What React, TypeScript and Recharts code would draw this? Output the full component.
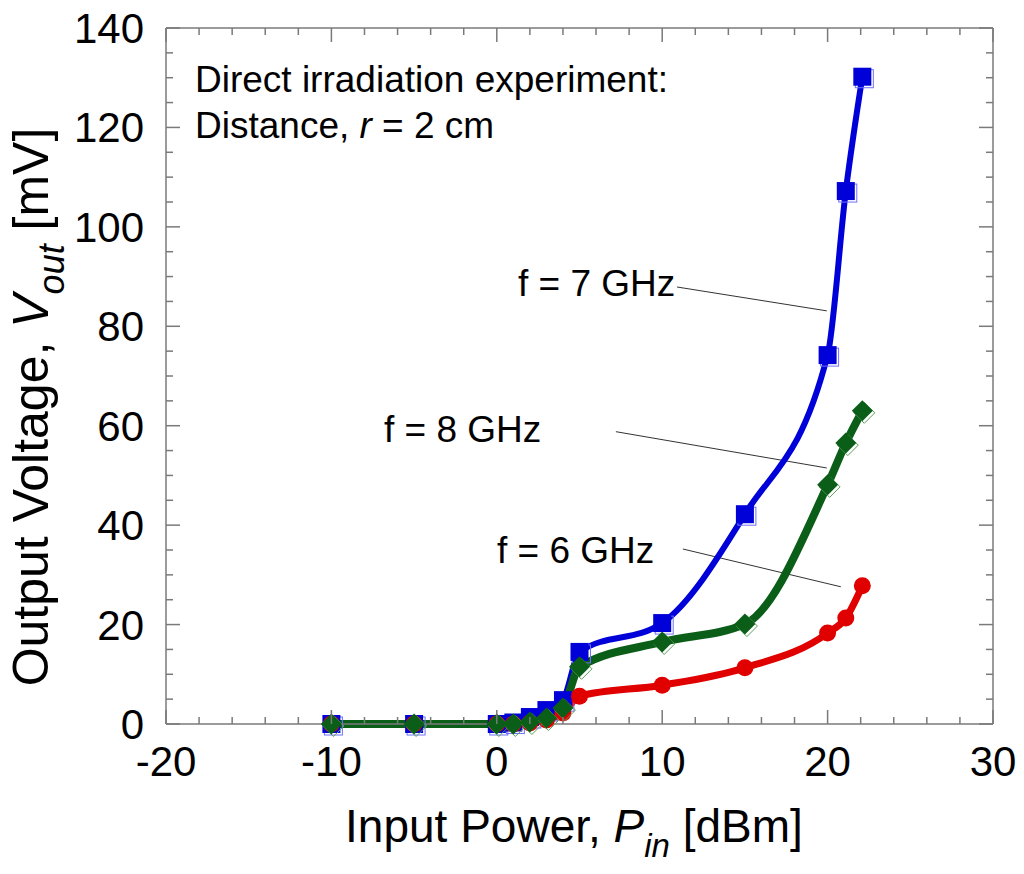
import { Line, LineChart, ReferenceLine, XAxis, YAxis } from "recharts";

// Input power [dBm] shared by all three frequencies
const powerDbm = [-10, -5, 0, 1, 2, 3, 4, 5, 10, 15, 20, 21.1, 22.1];
// Output voltage [mV]
const vout7GHz = [0, 0, 0, 0.3, 1.4, 2.8, 4.8, 14.5, 20.3, 42.2, 74.2, 107.2, 130.2];
const vout8GHz = [0, 0, 0, 0, 0.4, 1.2, 3.2, 11.5, 16.5, 20.1, 48.1, 56.5, 63];
const vout6GHz = [0, 0, 0, 0, 0.2, 0.8, 2.2, 5.6, 7.8, 11.3, 18.3, 21.3, 27.8];

const xTicks = [-20, -18, -16, -14, -12, -10, -8, -6, -4, -2, 0, 2, 4, 6, 8, 10, 12, 14, 16, 18, 20, 22, 24, 26, 28, 30];
const yTicks = [0, 5, 10, 15, 20, 25, 30, 35, 40, 45, 50, 55, 60, 65, 70, 75, 80, 85, 90, 95, 100, 105, 110, 115, 120, 125, 130, 135, 140];

// leader lines: [x1, y1, x2, y2] in data units
const leader7 = [10.9, 87.9, 19.95, 83.1];
const leader8 = [7.2, 58.8, 19.95, 51.5];
const leader6 = [11.25, 35.2, 20.8, 27.6];

const data = powerDbm.map((p, i) => ({ p, v7: vout7GHz[i], v8: vout8GHz[i], v6: vout6GHz[i] }));

const FONT = "'Liberation Sans', Arial, sans-serif";
const AXIS = "#7a7a7a";

const isMajorX = (v: number) => v % 10 === 0;
const isMajorY = (v: number) => v % 20 === 0;

function BottomTick({ x, y, payload }: any) {
  const major = isMajorX(payload.value);
  return (
    <g>
      <line x1={x} y1={y} x2={x} y2={y - (major ? 14 : 7)} stroke={AXIS} strokeWidth={1.5} />
      {major && (
        <text x={x} y={y + 52} textAnchor="middle" fontFamily={FONT} fontSize={42} fill="#000">
          {payload.value}
        </text>
      )}
    </g>
  );
}

function TopTick({ x, y, payload }: any) {
  const major = isMajorX(payload.value);
  return <line x1={x} y1={y} x2={x} y2={y + (major ? 14 : 7)} stroke={AXIS} strokeWidth={1.5} />;
}

function LeftTick({ x, y, payload }: any) {
  const major = isMajorY(payload.value);
  return (
    <g>
      <line x1={x} y1={y} x2={x + (major ? 14 : 7)} y2={y} stroke={AXIS} strokeWidth={1.5} />
      {major && (
        <text x={x - 22} y={y + 15} textAnchor="end" fontFamily={FONT} fontSize={42} fill="#000">
          {payload.value}
        </text>
      )}
    </g>
  );
}

function RightTick({ x, y, payload }: any) {
  const major = isMajorY(payload.value);
  return <line x1={x} y1={y} x2={x - (major ? 14 : 7)} y2={y} stroke={AXIS} strokeWidth={1.5} />;
}

function SquareDot({ cx, cy, index }: any) {
  if (cx == null || cy == null) return <g key={index} />;
  const s = 18;
  return (
    <g key={index}>
      <rect x={cx - s / 2 + 2} y={cy - s / 2 + 2} width={s} height={s} fill="none" stroke="#7070ff" strokeWidth={1} />
      <rect x={cx - s / 2} y={cy - s / 2} width={s} height={s} fill="#0000d8" />
    </g>
  );
}

function DiamondDot({ cx, cy, index }: any) {
  if (cx == null || cy == null) return <g key={index} />;
  const r = 10.5;
  const pts = (dx: number, dy: number) =>
    `${cx + dx},${cy - r + dy} ${cx + r + dx},${cy + dy} ${cx + dx},${cy + r + dy} ${cx - r + dx},${cy + dy}`;
  return (
    <g key={index}>
      <polygon points={pts(2, 2)} fill="none" stroke="#5aa05a" strokeWidth={1} />
      <polygon points={pts(0, 0)} fill="#0b5e18" />
    </g>
  );
}

function CircleDot({ cx, cy, index }: any) {
  if (cx == null || cy == null) return <g key={index} />;
  return <circle key={index} cx={cx} cy={cy} r={8.5} fill="#e00000" />;
}

export default function App() {
  return (
    <div style={{ position: "absolute", left: 0, top: 0, width: 1024, height: 874, background: "#fff" }}>
      <LineChart width={1024} height={874} data={data} margin={{ top: 27, right: 30, bottom: 90, left: 86 }}>
        <XAxis
          xAxisId="b"
          dataKey="p"
          type="number"
          domain={[-20, 30]}
          ticks={xTicks}
          interval={0}
          height={60}
          tickSize={0}
          tickMargin={0}
          tickLine={false}
          stroke={AXIS}
          strokeWidth={1.5}
          tick={<BottomTick />}
        />
        <XAxis
          xAxisId="t"
          orientation="top"
          dataKey="p"
          type="number"
          domain={[-20, 30]}
          ticks={xTicks}
          interval={0}
          height={1}
          tickSize={0}
          tickMargin={0}
          tickLine={false}
          stroke={AXIS}
          strokeWidth={1.5}
          tick={<TopTick />}
        />
        <YAxis
          yAxisId="l"
          type="number"
          domain={[0, 140]}
          ticks={yTicks}
          interval={0}
          width={80}
          tickSize={0}
          tickMargin={0}
          tickLine={false}
          stroke={AXIS}
          strokeWidth={1.5}
          tick={<LeftTick />}
        />
        <YAxis
          yAxisId="r"
          orientation="right"
          type="number"
          domain={[0, 140]}
          ticks={yTicks}
          interval={0}
          width={1}
          tickSize={0}
          tickMargin={0}
          tickLine={false}
          stroke={AXIS}
          strokeWidth={1.5}
          tick={<RightTick />}
        />
        {[leader7, leader8, leader6].map((l, i) => (
          <ReferenceLine
            key={i}
            xAxisId="b"
            yAxisId="l"
            segment={[
              { x: l[0], y: l[1] },
              { x: l[2], y: l[3] },
            ]}
            stroke="#333"
            strokeWidth={1}
          />
        ))}
        {/* invisible series so the top/right frame axes get drawn */}
        <Line xAxisId="t" yAxisId="r" type="linear" dataKey="v6" stroke="none" dot={false} activeDot={false} legendType="none" isAnimationActive={false} />
        <Line xAxisId="b" yAxisId="l" type="monotone" dataKey="v7" stroke="#0000d8" strokeWidth={6} dot={<SquareDot />} activeDot={false} isAnimationActive={false} />
        <Line xAxisId="b" yAxisId="l" type="monotone" dataKey="v6" stroke="#e00000" strokeWidth={7} dot={<CircleDot />} activeDot={false} isAnimationActive={false} />
        <Line xAxisId="b" yAxisId="l" type="monotone" dataKey="v8" stroke="#0b5e18" strokeWidth={8} dot={<DiamondDot />} activeDot={false} isAnimationActive={false} />
      </LineChart>
      <svg width={1024} height={874} style={{ position: "absolute", left: 0, top: 0, pointerEvents: "none" }} fontFamily={FONT} fill="#000">
        <text x={195} y={92} fontSize={37}>Direct irradiation experiment:</text>
        <text x={195} y={138} fontSize={37}>
          Distance, <tspan fontStyle="italic">r</tspan> = 2 cm
        </text>
        <text x={518} y={296} fontSize={37}>f = 7 GHz</text>
        <text x={384} y={442} fontSize={37}>f = 8 GHz</text>
        <text x={497} y={563} fontSize={37}>f = 6 GHz</text>
        <text x={574} y={842} fontSize={46} textAnchor="middle">
          Input Power, <tspan fontStyle="italic">P</tspan>
          <tspan fontStyle="italic" fontSize={33} dy={15}>in</tspan>
          <tspan dy={-15}> [dBm]</tspan>
        </text>
        <text x={48} y={407} fontSize={50} textAnchor="middle" transform="rotate(-90 48 407)">
          Output Voltage, <tspan fontStyle="italic">V</tspan>
          <tspan fontStyle="italic" fontSize={36} dy={16}>out</tspan>
          <tspan dy={-16}> [mV]</tspan>
        </text>
      </svg>
    </div>
  );
}
